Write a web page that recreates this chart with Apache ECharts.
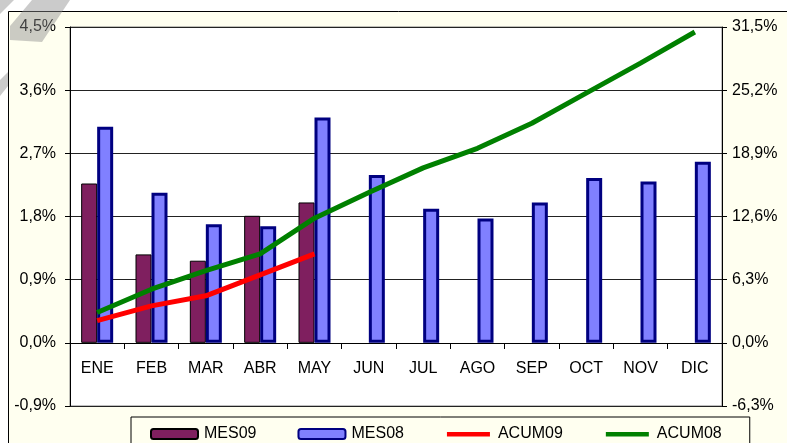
<!DOCTYPE html>
<html>
<head>
<meta charset="utf-8">
<script src="https://cdn.jsdelivr.net/npm/echarts@6/dist/echarts.min.js"></script>
<style>
  html, body { margin: 0; padding: 0; background: #ffffff; }
  #chart { width: 787px; height: 443px; }
</style>
</head>
<body>
<div id="chart"></div>
<script>
// monthly values (left axis, %)
const months = ["ENE", "FEB", "MAR", "ABR", "MAY", "JUN", "JUL", "AGO", "SEP", "OCT", "NOV", "DIC"];
const mes09 = [2.27, 1.26, 1.17, 1.81, 2.0, null, null, null, null, null, null, null];
const mes08 = [3.08, 2.14, 1.69, 1.66, 3.21, 2.39, 1.91, 1.77, 2.0, 2.35, 2.3, 2.58];
// cumulative values (right axis, %)
const acum09 = [2.22, 3.69, 4.69, 6.78, 8.87];
const acum08 = [3.02, 5.35, 7.21, 8.87, 12.43, 15.0, 17.45, 19.4, 21.9, 24.9, 27.9, 31.0];

const FONT = "Liberation Sans";
const pct = (v) => v.toFixed(1).replace(".", ",") + "%";
// thin line icon for the legend (box 47x10, bar in the middle)
const LINE_ICON = "path://M0,0 M47,10 M2,3 L45,3 L45,7.5 L2,7.5 Z";

const chart = echarts.init(document.getElementById("chart"));

const option = {
  animation: false,
  textStyle: { fontFamily: FONT },
  graphic: [
    {
      type: "rect",
      z: -5,
      shape: { x: 8.5, y: 11.5, width: 790, height: 450 },
      style: { fill: "#FFFFF0", stroke: "#000", lineWidth: 1 },
    },
    // grey watermark strokes in the corner
    {
      type: "polygon",
      z: 50,
      shape: { points: [[32, 0], [70, 0], [42, 42], [10, 40], [10, 26]] },
      style: { fill: "rgba(140,140,140,0.45)" },
    },
    {
      type: "polygon",
      z: 50,
      shape: { points: [[0, 0], [14, 0], [0, 14]] },
      style: { fill: "rgba(140,140,140,0.45)" },
    },
    {
      type: "polygon",
      z: 50,
      shape: { points: [[0, 80], [8, 72], [8, 86], [0, 96]] },
      style: { fill: "rgba(140,140,140,0.45)" },
    },
  ],
  grid: {
    left: 70,
    right: 65,
    top: 27,
    bottom: 37,
    show: true,
    backgroundColor: "#ffffff",
    borderColor: "#808080",
    borderWidth: 1,
  },
  legend: {
    left: 131,
    top: 417,
    padding: [9, 28, 30, 19],
    itemWidth: 47,
    itemHeight: 10,
    itemGap: 41,
    borderColor: "#000",
    borderWidth: 1,
    backgroundColor: "#FFFFF0",
    textStyle: { fontSize: 16, color: "#000", fontFamily: FONT, padding: [0, 0, 0, 1] },
    data: [
      { name: "MES09" },
      { name: "MES08" },
      { name: "ACUM09", icon: LINE_ICON },
      { name: "ACUM08", icon: LINE_ICON },
    ],
  },
  xAxis: {
    type: "category",
    data: months,
    offset: -63,
    axisLine: { onZero: false, lineStyle: { color: "#000", width: 1 } },
    axisTick: { show: true, length: 6, lineStyle: { color: "#000" } },
    axisLabel: { interval: 0, margin: 18, fontSize: 16, color: "#000", fontFamily: FONT },
    splitLine: { show: false },
  },
  yAxis: [
    {
      type: "value",
      min: -0.9,
      max: 4.5,
      interval: 0.9,
      axisLine: { show: true, onZero: false, lineStyle: { color: "#000" } },
      axisTick: { show: true, length: 5, lineStyle: { color: "#000" } },
      axisLabel: { margin: 14, fontSize: 16, color: "#000", fontFamily: FONT, formatter: pct },
      splitLine: { show: true, lineStyle: { color: "#222", width: 1 } },
    },
    {
      type: "value",
      min: -6.3,
      max: 31.5,
      interval: 6.3,
      position: "right",
      axisLine: { show: true, onZero: false, lineStyle: { color: "#000" } },
      axisTick: { show: true, length: 5, lineStyle: { color: "#000" } },
      axisLabel: { margin: 10, fontSize: 16, color: "#000", fontFamily: FONT, formatter: pct },
      splitLine: { show: false },
    },
  ],
  series: [
    {
      name: "MES09",
      type: "bar",
      yAxisIndex: 0,
      data: mes09,
      barWidth: 16,
      barGap: "0%",
      itemStyle: { color: "#7F1F5F", borderColor: "#000", borderWidth: 1 },
    },
    {
      name: "MES08",
      type: "bar",
      yAxisIndex: 0,
      data: mes08,
      barWidth: 16,
      barGap: "0%",
      itemStyle: { color: "#8080FF", borderColor: "#000080", borderWidth: 3 },
    },
    {
      name: "ACUM09",
      type: "line",
      yAxisIndex: 1,
      data: acum09,
      symbol: "none",
      lineStyle: { color: "#FF0000", width: 5 },
      itemStyle: { color: "#FF0000" },
      z: 3,
    },
    {
      name: "ACUM08",
      type: "line",
      yAxisIndex: 1,
      data: acum08,
      symbol: "none",
      lineStyle: { color: "#008000", width: 5 },
      itemStyle: { color: "#008000" },
      z: 3,
    },
  ],
};

chart.setOption(option);
</script>
</body>
</html>
